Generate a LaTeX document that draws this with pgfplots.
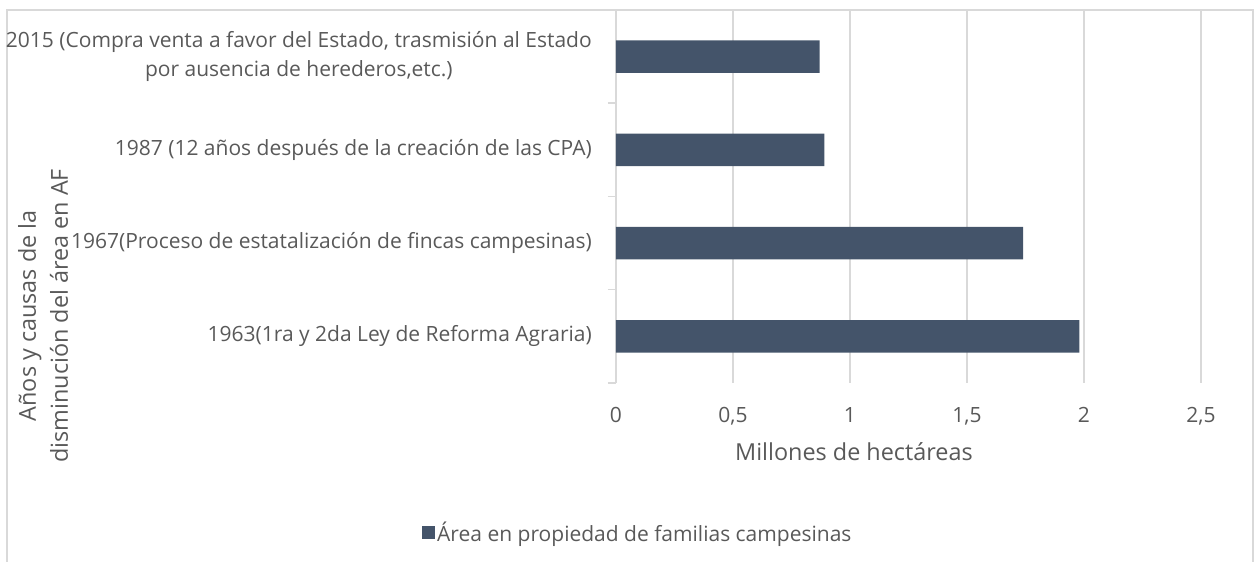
\documentclass[border=0pt]{standalone}
\usepackage{fontspec}
\setmainfont{Open Sans}
\usepackage{pgfplots}
\pgfplotsset{compat=1.18}
\definecolor{barc}{HTML}{44546A}
\definecolor{txt}{HTML}{595959}
\definecolor{gridc}{HTML}{D9D9D9}
\begin{document}
\begin{tikzpicture}
\path[use as bounding box] (0pt,0pt) rectangle (1254pt,562pt);
\draw[gridc, line width=1.2pt] (7pt,0pt) -- (7pt,552pt) -- (1253pt,552pt) -- (1253pt,0pt);
\begin{axis}[
  at={(616pt,179pt)}, anchor=south west,
  scale only axis, width=585pt, height=373pt,
  xmin=0, xmax=2.5, ymin=-0.5, ymax=3.5,
  xbar, bar width=32.7pt,
  axis line style={draw=none},
  tick pos=left,
  major tick length=0pt,
  xtick={0,0.5,1,1.5,2,2.5},
  xmajorgrids,
  grid style={gridc, line width=1.5pt},
  xticklabel style={font=\fontsize{21}{28}\selectfont, text=txt, anchor=north, inner sep=0pt, yshift=-24.5pt,
    /pgf/number format/.cd, use comma, fixed, assume math mode=true},
  ytick={0,1,2,3},
  yticklabels={
    {1963(1ra y 2da Ley de Reforma Agraria)},
    {1967(Proceso de estatalización de fincas campesinas)},
    {1987 (12 años después de la creación de las CPA)},
    {2015 (Compra venta a favor del Estado, trasmisión al Estado\\por ausencia de herederos,etc.)}},
  yticklabel style={font=\fontsize{21}{29.5}\selectfont, text=txt, anchor=east, align=center, inner sep=0pt, xshift=-24pt},
  extra y ticks={-0.5,0.5,1.5,2.5,3.5},
  extra y tick labels={},
  extra y tick style={major tick length=8pt, tick align=outside, ymajorgrids=false,
    tick style={draw=gridc, line width=1.5pt}},
  xlabel={Millones de hectáreas},
  xlabel style={at={(axis description cs:0.4068,-0.185)}, anchor=center, font=\fontsize{23.4}{31}\selectfont, text=txt},
  ylabel={Años y causas de la\\disminución del área en AF},
  ylabel style={at={(axis description cs:-0.9795,0.18)}, anchor=center, rotate=0, align=center, font=\fontsize{23.4}{32}\selectfont, text=txt},
  legend style={at={(axis description cs:-0.3316,-0.3995)}, anchor=west, draw=none, fill=none, inner sep=0pt,
    font=\fontsize{21}{28}\selectfont, text=txt},
  legend image code/.code={\fill[#1, draw=none] (0pt,-6.5pt) rectangle (13pt,6.5pt);},
]
\addplot[fill=barc, draw=none] coordinates {(1.98,0) (1.74,1) (0.89,2) (0.87,3)};
\addlegendentry{Área en propiedad de familias campesinas}
\end{axis}
\end{tikzpicture}
\end{document}
